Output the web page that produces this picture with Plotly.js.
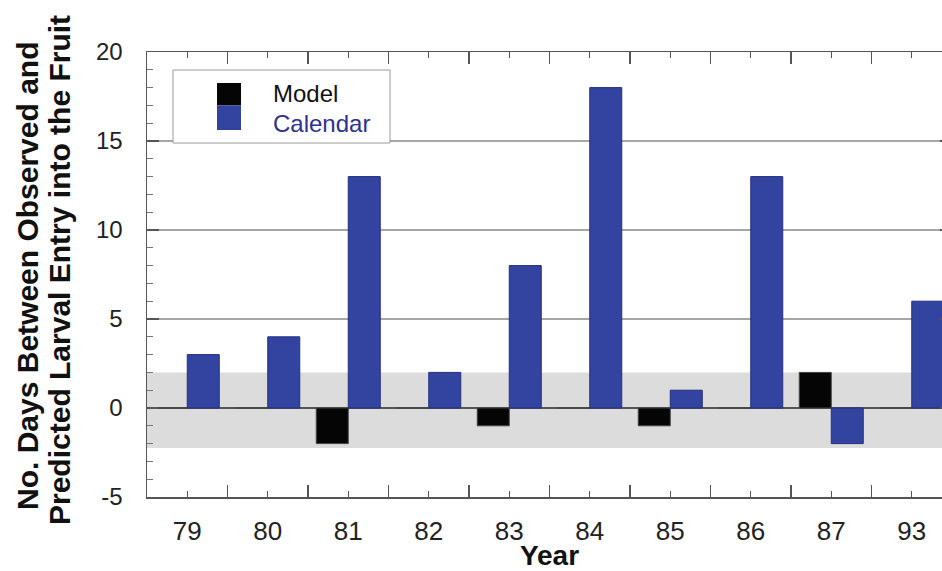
<!DOCTYPE html>
<html>
<head>
<meta charset="utf-8">
<script src="https://cdn.plot.ly/plotly-3.0.1.min.js"></script>
<style>
html, body { margin: 0; padding: 0; overflow: hidden; background: #fff; }
#chart { width: 960px; height: 571px; }
</style>
</head>
<body>
<div id="chart"></div>
<script>
// ---- data ----
var years = ["79", "80", "81", "82", "83", "84", "85", "86", "87", "93"];
var modelDays = [0, 0, -2, 0, -1, 0, -1, 0, 2, 0];
var calendarDays = [3, 4, 13, 2, 8, 18, 1, 13, -2, 6];
var seriesNames = ["Model", "Calendar"];
var toleranceBand = [-2.25, 2];
var yTickVals = [-5, 0, 5, 10, 15, 20];
var yTitleLines = ["No. Days Between Observed and", "Predicted Larval Entry into the Fruit"];
var xTitle = "Year";

// ---- styles ----
var FONT = '"Liberation Sans", Arial, Helvetica, sans-serif';
var modelColor = "#050505";
var calColor = "#3343a0";
var calText = "#2e3192";
var frameColor = "#555555";

var traces = [
  {
    type: "bar", name: seriesNames[0], x: years, y: modelDays,
    marker: { color: modelColor, line: { color: "#444", width: 1 } },
    hoverinfo: "x+y+name"
  },
  {
    type: "bar", name: seriesNames[1], x: years, y: calendarDays,
    marker: { color: calColor, line: { color: "#252f80", width: 1 } },
    hoverinfo: "x+y+name"
  },
  {
    // helper trace for the minor (centre) category ticks
    type: "scatter", mode: "none", x: years, y: years.map(function () { return null; }),
    xaxis: "x2", yaxis: "y", showlegend: false, hoverinfo: "skip"
  }
];

function px2x(p) { return (p - 147) / 805; }
function px2y(p) { return (497 - p) / 445; }

var layout = {
  width: 960, height: 571,
  margin: { l: 147, r: 8, t: 52, b: 74 },
  paper_bgcolor: "#ffffff", plot_bgcolor: "#ffffff",
  font: { family: FONT, color: "#222", size: 25 },
  showlegend: false,
  barmode: "group", bargap: 0.205, bargroupgap: 0,
  xaxis: {
    type: "category", categoryorder: "array", categoryarray: years,
    range: [-0.5, years.length - 0.5],
    tickson: "boundaries", ticks: "inside", ticklen: 12, tickwidth: 1.3, tickcolor: frameColor,
    showline: true, linecolor: frameColor, linewidth: 1.5, mirror: "ticks",
    showgrid: false, zeroline: false,
    tickfont: { family: FONT, size: 26, color: "#222" },
    ticklabelstandoff: 10,
    title: { text: xTitle, font: { family: FONT, size: 28, color: "#111", weight: "bold" }, standoff: 5 }
  },
  xaxis2: {
    type: "category", categoryorder: "array", categoryarray: years,
    overlaying: "x", anchor: "y", side: "bottom",
    range: [-0.5, years.length - 0.5],
    ticks: "inside", ticklen: 6, tickwidth: 1.3, tickcolor: frameColor,
    showticklabels: false, showline: false, showgrid: false, zeroline: false, mirror: "ticks"
  },
  yaxis: {
    range: [-5, 20], tickvals: yTickVals, ticktext: yTickVals.map(String),
    ticks: "inside", ticklen: 12, tickwidth: 1.3, tickcolor: frameColor,
    minor: { dtick: 1, ticks: "inside", ticklen: 6, tickwidth: 1, tickcolor: "#777", showgrid: false },
    showline: true, linecolor: frameColor, linewidth: 1.5, mirror: "ticks",
    showgrid: true, gridcolor: "#a6a6a6", gridwidth: 1.5,
    zeroline: true, zerolinecolor: "#555", zerolinewidth: 1.5,
    tickfont: { family: FONT, size: 24, color: "#222" },
    ticklabelstandoff: 18
  },
  shapes: [
    { type: "rect", xref: "paper", yref: "y", x0: 0, x1: 1, y0: toleranceBand[0], y1: toleranceBand[1],
      fillcolor: "#dcdcdc", line: { width: 0 }, layer: "below" },
    // legend box
    { type: "rect", xref: "paper", yref: "paper", x0: px2x(173), x1: px2x(390), y0: px2y(143), y1: px2y(70),
      fillcolor: "#ffffff", line: { color: "#9a9a9a", width: 1 }, layer: "above" },
    { type: "rect", xref: "paper", yref: "paper", x0: px2x(217), x1: px2x(241), y0: px2y(105.5), y1: px2y(83),
      fillcolor: modelColor, line: { width: 0 }, layer: "above" },
    { type: "rect", xref: "paper", yref: "paper", x0: px2x(217), x1: px2x(241), y0: px2y(130), y1: px2y(105.5),
      fillcolor: calColor, line: { width: 0 }, layer: "above" }
  ],
  annotations: [
    { xref: "paper", yref: "paper", x: px2x(272), y: px2y(108), xanchor: "left", yanchor: "bottom",
      text: seriesNames[0], showarrow: false, borderpad: 0, font: { family: FONT, size: 24, color: "#111" } },
    { xref: "paper", yref: "paper", x: px2x(272), y: px2y(109), xanchor: "left", yanchor: "top",
      text: seriesNames[1], showarrow: false, borderpad: 0, font: { family: FONT, size: 24, color: calText } },
    { xref: "paper", yref: "paper", x: px2x(27), y: px2y(276), xanchor: "center", yanchor: "middle",
      textangle: -90, text: "<b>" + yTitleLines[0] + "</b>", showarrow: false,
      font: { family: FONT, size: 30, color: "#111" } },
    { xref: "paper", yref: "paper", x: px2x(59), y: px2y(270), xanchor: "center", yanchor: "middle",
      textangle: -90, text: "<b>" + yTitleLines[1] + "</b>", showarrow: false,
      font: { family: FONT, size: 30, color: "#111" } }
  ]
};

Plotly.newPlot("chart", traces, layout, { displayModeBar: false, staticPlot: true });
</script>
</body>
</html>
